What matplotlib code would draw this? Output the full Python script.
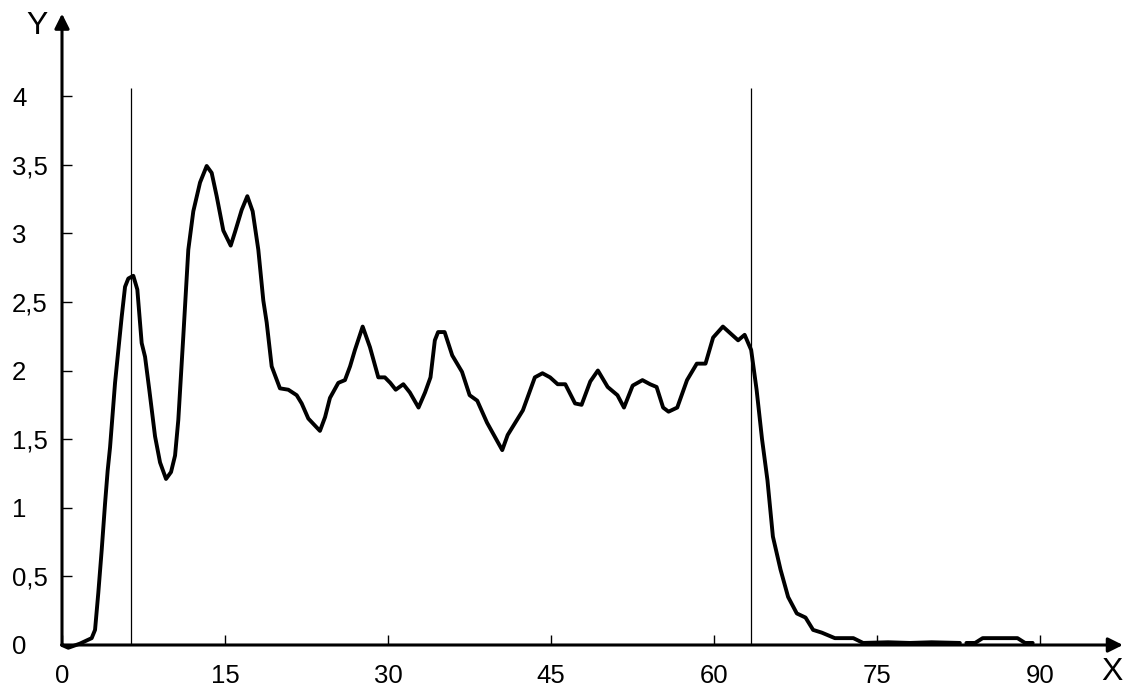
import numpy as np
import matplotlib
matplotlib.use('Agg')
import matplotlib.pyplot as plt

plt.rcParams['font.family'] = ['Liberation Sans', 'DejaVu Sans']

# curve (x, y)
x_vals = [0.0, 0.58, 1.65, 2.73, 3.04, 3.34, 3.65, 3.96, 4.2, 4.42, 4.88, 5.49, 5.8, 6.1,
          6.56, 6.93, 7.33, 7.64, 8.03, 8.56, 9.02, 9.57, 10.03, 10.4, 10.7, 11.16, 11.62,
          12.08, 12.7, 13.31, 13.77, 14.23, 14.84, 15.52, 15.92, 16.53, 17.05, 17.54, 18.06,
          18.52, 18.83, 19.29, 20.05, 20.82, 21.59, 22.05, 22.66, 23.73, 24.2, 24.65, 25.42,
          26.03, 26.5, 26.95, 27.66, 28.33, 29.1, 29.7, 30.2, 30.7, 31.4, 32.0, 32.8, 33.4,
          33.9, 34.3, 34.6, 35.2, 35.9, 36.8, 37.5, 38.2, 39.1, 40.5, 41.0, 42.4, 43.5, 44.2,
          44.9, 45.6, 46.3, 47.2, 47.8, 48.6, 49.3, 50.2, 51.1, 51.7, 52.5, 53.4, 54.1, 54.7,
          55.3, 55.8, 56.6, 57.5, 58.4, 59.2, 59.9, 60.8, 61.5, 62.2, 62.8, 63.4, 63.9, 64.4,
          64.9, 65.4, 66.1, 66.8, 67.6, 68.4, 69.1, 69.9, 71.1, 72.8, 73.7, 76.0, 78.0, 80.0,
          82.6, 82.9, 83.2, 84.0, 84.7, 87.9, 88.6, 89.3]
y_vals = [0.0, -0.02, 0.01, 0.05, 0.11, 0.38, 0.69, 1.03, 1.27, 1.44, 1.91, 2.39, 2.61, 2.67,
          2.69, 2.59, 2.2, 2.1, 1.86, 1.52, 1.33, 1.21, 1.26, 1.38, 1.64, 2.25, 2.88,
          3.16, 3.37, 3.49, 3.44, 3.27, 3.02, 2.91, 3.01, 3.17, 3.27, 3.16, 2.88,
          2.51, 2.35, 2.03, 1.87, 1.86, 1.82, 1.76, 1.65, 1.56, 1.66, 1.8, 1.91,
          1.93, 2.03, 2.15, 2.32, 2.17, 1.95, 1.95, 1.91, 1.86, 1.9, 1.84, 1.73, 1.84,
          1.95, 2.22, 2.28, 2.28, 2.11, 1.99, 1.82, 1.78, 1.62, 1.42, 1.53, 1.71, 1.95, 1.98,
          1.95, 1.9, 1.9, 1.76, 1.75, 1.92, 2.0, 1.88, 1.82, 1.73, 1.89, 1.93, 1.9, 1.88,
          1.73, 1.7, 1.73, 1.93, 2.05, 2.05, 2.24, 2.32, 2.27, 2.22, 2.26, 2.15, 1.86, 1.5,
          1.2, 0.79, 0.55, 0.35, 0.23, 0.2, 0.11, 0.09, 0.05, 0.05, 0.015, 0.02, 0.015, 0.02,
          0.015, np.nan, 0.015, 0.015, 0.05, 0.05, 0.015, 0.015]

marker_x = [6.35, 63.4]
marker_top = 4.06

x_ticks = [0, 15, 30, 45, 60, 75, 90]
x_labels = ['0', '15', '30', '45', '60', '75', '90']
y_ticks = [0, 0.5, 1, 1.5, 2, 2.5, 3, 3.5, 4]
y_labels = ['0', '0,5', '1', '1,5', '2', '2,5', '3', '3,5', '4']

W, H = 1125, 688
fig = plt.figure(figsize=(W / 100, H / 100), dpi=100)
x_max, y_max = 97.6, 4.6
ax = fig.add_axes([62 / W, 43 / H, x_max * 10.87 / W, y_max * 137.25 / H])
ax.set_xlim(0, x_max)
ax.set_ylim(0, y_max)
for s in ax.spines.values():
    s.set_visible(False)

# axes with arrow heads
arrow = dict(arrowstyle='-|>', color='black', lw=2.2, mutation_scale=22, shrinkA=0, shrinkB=0)
ax.annotate('', xy=(x_max, 0), xytext=(0, 0), xycoords='data', arrowprops=arrow, annotation_clip=False)
ax.annotate('', xy=(0, y_max), xytext=(0, 0), xycoords='data', arrowprops=arrow, annotation_clip=False)

ax.vlines(marker_x, 0, marker_top, color='black', lw=0.9)
ax.plot(x_vals, y_vals, color='black', lw=2.8, solid_joinstyle='round', solid_capstyle='round', clip_on=False)

ax.set_xticks(x_ticks)
ax.set_xticklabels(x_labels, fontsize=18.5)
ax.set_yticks(y_ticks)
ax.set_yticklabels(y_labels, fontsize=18.5)
ax.tick_params(axis='x', direction='in', length=7, width=1.0, pad=14)
ax.tick_params(axis='y', direction='in', length=7, width=1.0, pad=36)
for lab in ax.get_yticklabels():
    lab.set_horizontalalignment('left')

fig.text(37 / W, 1 - 26 / H, 'Y', fontsize=23, ha='center', va='center')
fig.text(1112 / W, 1 - 672 / H, 'X', fontsize=23, ha='center', va='center')

fig.savefig('out.png', dpi=100)
